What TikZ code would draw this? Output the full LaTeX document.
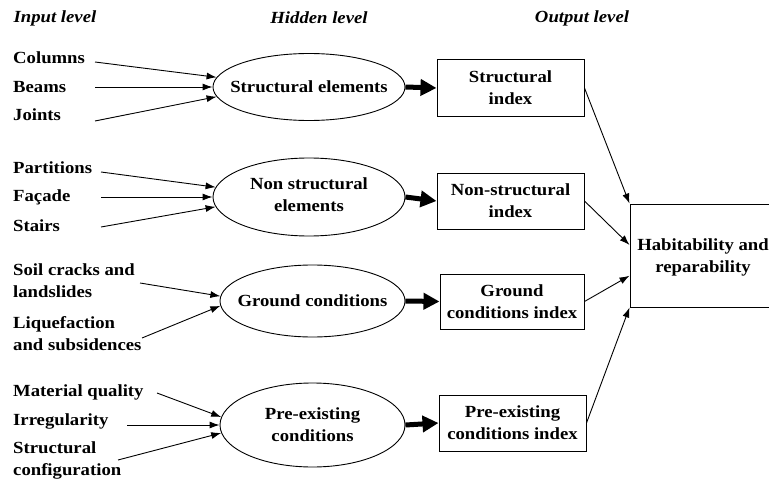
\documentclass[tikz,border=0pt]{standalone}
\usepackage{fontspec}
\setmainfont{Liberation Serif}[FakeStretch=1.1]
\usetikzlibrary{arrows.meta,shapes.geometric}
\tikzset{
  txt/.style={font=\fontsize{17}{22}\selectfont\bfseries, inner sep=0pt},
  inlabel/.style={txt, anchor=west, align=left},
  head/.style={font=\fontsize{17}{22}\selectfont\bfseries\itshape, inner sep=0pt},
  hidden/.style={draw, ellipse, line width=0.9pt, inner sep=0pt},
  hiddentext/.style={txt, align=center},
  outbox/.style={txt, draw, rectangle, line width=1pt, align=center},
  thinarrow/.style={line width=0.9pt, -{Latex[length=10pt,width=7pt]}},
  bigarrow/.style={line width=5pt, -{Triangle[length=16pt,width=16pt]}},
}
\begin{document}
\begin{tikzpicture}[x=1pt,y=-1pt]
\useasboundingbox (0,0) rectangle (769,487);
\clip (0,0) rectangle (769,487);
% headers
\node[head] (h1) at (55,18) {Input level};
\node[head] (h2) at (319,18) {Hidden level};
\node[head] (h3) at (582,18) {Output level};
% hidden ellipses
\node[hidden, minimum width=192pt, minimum height=67pt] (e1) at (309,87) {};
\node[hidden, minimum width=192pt, minimum height=78pt] (e2) at (309,197) {};
\node[hidden, minimum width=185pt, minimum height=72pt] (e3) at (312.5,301) {};
\node[hidden, minimum width=185pt, minimum height=84pt] (e4) at (312.5,425) {};
\node[hiddentext] (t1) at (e1) {Structural elements};
\node[hiddentext] (t2) at ([yshift=2]e2.center) {Non structural\\elements};
\node[hiddentext] (t3) at (e3) {Ground conditions};
\node[hiddentext] (t4) at (e4) {Pre-existing\\conditions};
% output boxes
\node[outbox, minimum width=147pt, minimum height=56pt] (b1) at (510.5,88) {Structural\\index};
\node[outbox, minimum width=147pt, minimum height=56pt] (b2) at (510.5,201) {Non-structural\\index};
\node[outbox, minimum width=144pt, minimum height=55pt] (b3) at (512,301.5) {Ground\\conditions index};
\node[outbox, minimum width=147pt, minimum height=56pt] (b4) at (512.5,423) {Pre-existing\\conditions index};
% final box
\node[outbox, minimum width=150pt, minimum height=103pt] (hab) at (705,255.5) {};
\node[hiddentext] (habt) at (703,257) {Habitability and\\reparability};
% input labels
\node[inlabel] (i1) at (13,58) {Columns};
\node[inlabel] (i2) at (13,87) {Beams};
\node[inlabel] (i3) at (13,115) {Joints};
\node[inlabel] (i4) at (13,168) {Partitions};
\node[inlabel] (i5) at (13,197) {Façade};
\node[inlabel] (i6) at (13,226) {Stairs};
\node[inlabel] (i7) at (13,281) {Soil cracks and\\landslides};
\node[inlabel] (i8) at (13,334) {Liquefaction\\and subsidences};
\node[inlabel] (i9) at (13,392) {Material quality};
\node[inlabel] (i10) at (13,421) {Irregularity};
\node[inlabel] (i11) at (13,460) {Structural\\configuration};
% arrow start points
\coordinate (s1) at (95,62);
\coordinate (s2) at (95,87);
\coordinate (s3) at (95,121);
\coordinate (s4) at (101,172);
\coordinate (s5) at (101,197);
\coordinate (s6) at (101,227);
\coordinate (s7) at (140,283);
\coordinate (s8) at (142,338);
\coordinate (s9) at (157,393);
\coordinate (s10) at (127,425);
\coordinate (s11) at (118,460);
% input arrows
\draw[thinarrow] (s1) -- (e1.174);
\draw[thinarrow] (s2) -- (e1.west);
\draw[thinarrow] (s3) -- (e1.186);
\draw[thinarrow] (s4) -- (e2.174.5);
\draw[thinarrow] (s5) -- (e2.west);
\draw[thinarrow] (s6) -- (e2.186);
\draw[thinarrow] (s7) -- (e3.177);
\draw[thinarrow] (s8) -- (e3.183);
\draw[thinarrow] (s9) -- (e4.175);
\draw[thinarrow] (s10) -- (e4.west);
\draw[thinarrow] (s11) -- (e4.185);
% thick arrows
\draw[bigarrow] (e1.east) -- (b1.west);
\draw[bigarrow] (e2.east) -- (b2.west);
\draw[bigarrow] (e3.east) -- (b3.west);
\draw[bigarrow] (e4.east) -- (b4.west);
% outputs to final
\draw[thinarrow] (b1.east) -- (hab.north west);
\draw[thinarrow] (b2.east) -- (hab.172);
\draw[thinarrow] (b3.east) -- (hab.195);
\draw[thinarrow] (b4.east) -- (hab.south west);
\end{tikzpicture}
\end{document}
